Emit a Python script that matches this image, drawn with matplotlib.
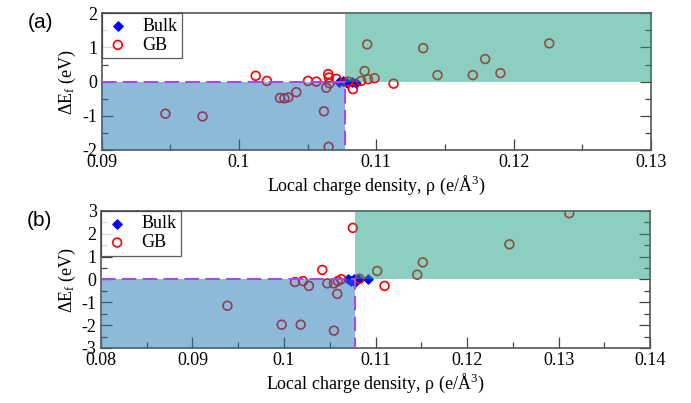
import matplotlib.pyplot as plt
import numpy as np

plt.rcParams.update({
    "font.family": "Liberation Serif",
    "font.size": 10,
    "axes.unicode_minus": False,
    "mathtext.fontset": "custom",
    "mathtext.rm": "Liberation Serif",
    "mathtext.it": "Liberation Serif:italic",
    "mathtext.bf": "Liberation Serif:bold",
})

# (a) formation energy vs local charge density
bulk_a_x = [0.1073, 0.1076, 0.1079, 0.1082, 0.1085]
bulk_a_y = [-0.02, 0.02, -0.05, 0.0, -0.03]
gb_a_x = [0.09465, 0.09735, 0.10122, 0.10204, 0.10299, 0.10331, 0.10360, 0.10418,
          0.10503, 0.10564, 0.10619, 0.10636, 0.10650, 0.10655, 0.10660, 0.10653,
          0.10710, 0.10794, 0.10830, 0.10890, 0.10915, 0.10934, 0.10940, 0.10988,
          0.11126, 0.11342, 0.11446, 0.11703, 0.11793, 0.11904, 0.12260]
gb_a_y = [-0.94, -1.02, 0.17, 0.02, -0.48, -0.49, -0.46, -0.31,
          0.02, 0.0, -0.87, -0.18, 0.22, 0.12, -0.05, -1.91,
          0.08, 0.0, -0.22, 0.02, 0.31, 1.09, 0.07, 0.10,
          -0.06, 0.98, 0.19, 0.19, 0.66, 0.25, 1.12]
cut_a = 0.1077

# (b)
bulk_b_x = [0.1070, 0.1073, 0.1076, 0.1078, 0.1081, 0.1092]
bulk_b_y = [0.02, -0.05, 0.03, -0.12, 0.0, 0.02]
gb_b_x = [0.09382, 0.09975, 0.10182, 0.10207, 0.10120, 0.10272, 0.10418, 0.10473,
          0.10545, 0.10545, 0.10582, 0.10589, 0.10626, 0.10752, 0.10825, 0.11018,
          0.11098, 0.11455, 0.11516, 0.12462, 0.13116]
gb_b_y = [-1.15, -1.98, -1.98, -0.07, -0.11, -0.28, 0.42, -0.17,
          -0.17, -2.24, -0.63, -0.07, 0.01, 2.26, 0.03, 0.37,
          -0.28, 0.21, 0.75, 1.54, 2.90]
cut_b = 0.1077

BLUE_SHADE = "#1f77b4"
GREEN_SHADE = "#1b9e80"
DASH = "#a848f0"

fig = plt.figure(figsize=(6.91, 4.03), dpi=100)
ax_a = fig.add_axes([0.147, 0.628, 0.795, 0.339])
ax_b = fig.add_axes([0.146, 0.1365, 0.795, 0.34])


def draw(ax, bx, by, gx, gy, cut, xlim, ylim, xticks, yticks, xminor, yminor, letter):
    ax.scatter(bx, by, marker="D", s=22, color="#0000ff", zorder=2, label="Bulk")
    ax.scatter(gx, gy, marker="o", s=40, facecolor="none", edgecolor="#ff0000",
               linewidth=1.2, zorder=2, label="GB")
    ax.fill_between([xlim[0], cut], ylim[0], 0, color=BLUE_SHADE, alpha=0.5, lw=0, zorder=3)
    ax.fill_between([cut, xlim[1]], 0, ylim[1], color=GREEN_SHADE, alpha=0.5, lw=0, zorder=3)
    ax.plot([xlim[0], cut, cut], [0, 0, ylim[0]], color=DASH, lw=1.5,
            dashes=(7, 3), zorder=4)
    ax.set_xlim(*xlim)
    ax.set_ylim(*ylim)
    ax.set_xticks(xticks)
    ax.set_xticklabels([f"{t:g}" for t in xticks])
    ax.set_yticks(yticks)
    ax.set_xticks(xminor, minor=True)
    ax.set_yticks(yminor, minor=True)
    ax.tick_params(which="both", direction="in", left=True, right=True, bottom=True,
                   top=False, color="#444444", labelsize=13)
    ax.tick_params(which="major", length=8, width=0.9, pad=3)
    ax.tick_params(which="minor", length=4.3, width=0.9)
    for s in ax.spines.values():
        s.set_color("#555555")
        s.set_linewidth(1.2)
    ax.set_xlabel("Local charge density, ρ (e/Å$^3$)", fontsize=13, labelpad=2)
    ax.set_ylabel(r"ΔE$_\mathrm{f}$ (eV)", fontsize=13, labelpad=3)
    leg = ax.legend(loc="upper left", frameon=True, fancybox=False, borderaxespad=0,
                    handletextpad=0.7, borderpad=0.25, labelspacing=0.1, fontsize=13,
                    handlelength=1.3)
    leg.get_frame().set_edgecolor("#333333")
    leg.get_frame().set_linewidth(0.9)
    leg.set_zorder(6)
    ax.text(-0.135, 1.0, letter, transform=ax.transAxes, family="Liberation Sans",
            fontsize=15, ha="left", va="top")


draw(ax_a, bulk_a_x, bulk_a_y, gb_a_x, gb_a_y, cut_a, (0.09, 0.13), (-2, 2),
     [0.09, 0.10, 0.11, 0.12, 0.13], [-2, -1, 0, 1, 2],
     np.arange(0.095, 0.13, 0.01), np.arange(-1.5, 2, 1.0), "(a)")
draw(ax_b, bulk_b_x, bulk_b_y, gb_b_x, gb_b_y, cut_b, (0.08, 0.14), (-3, 3),
     [0.08, 0.09, 0.10, 0.11, 0.12, 0.13, 0.14], [-3, -2, -1, 0, 1, 2, 3],
     np.arange(0.085, 0.14, 0.01), np.arange(-2.5, 3, 1.0), "(b)")

fig.savefig("out.png", dpi=100)
